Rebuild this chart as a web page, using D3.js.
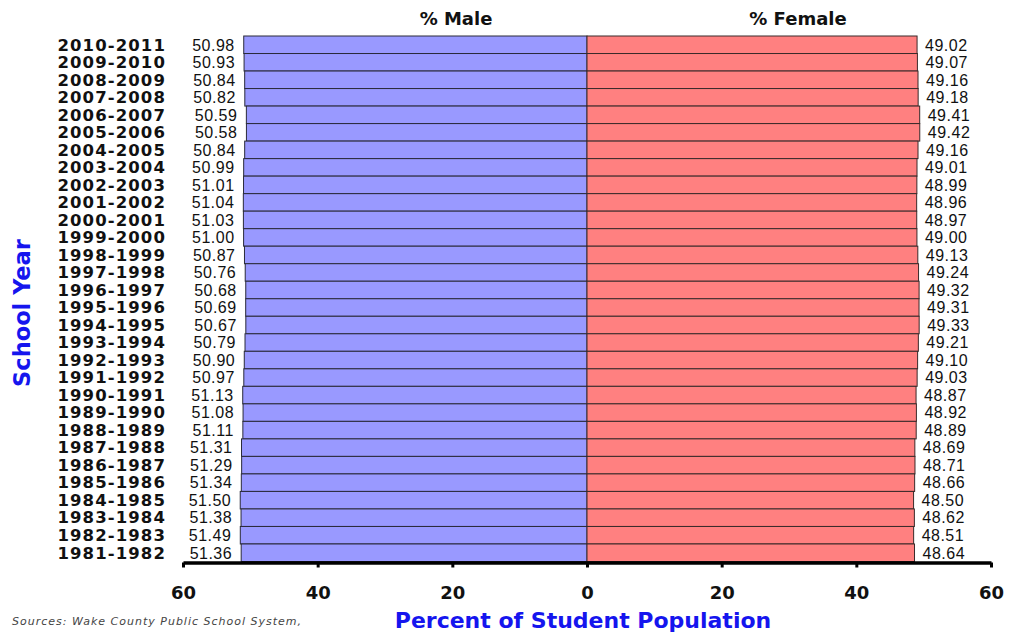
<!DOCTYPE html>
<html>
<head>
<meta charset="utf-8">
<script src="https://cdn.jsdelivr.net/npm/d3@7"></script>
<style>
  body { margin: 0; background: #fff; }
</style>
</head>
<body>
<div id="chart"></div>
<script>
var years = ["2010-2011", "2009-2010", "2008-2009", "2007-2008", "2006-2007", "2005-2006",
    "2004-2005", "2003-2004", "2002-2003", "2001-2002", "2000-2001", "1999-2000",
    "1998-1999", "1997-1998", "1996-1997", "1995-1996", "1994-1995", "1993-1994",
    "1992-1993", "1991-1992", "1990-1991", "1989-1990", "1988-1989", "1987-1988",
    "1986-1987", "1985-1986", "1984-1985", "1983-1984", "1982-1983", "1981-1982"];

var male = [50.98, 50.93, 50.84, 50.82, 50.59, 50.58, 50.84, 50.99, 51.01, 51.04,
    51.03, 51.00, 50.87, 50.76, 50.68, 50.69, 50.67, 50.79, 50.90, 50.97,
    51.13, 51.08, 51.11, 51.31, 51.29, 51.34, 51.50, 51.38, 51.49, 51.36];

var female = [49.02, 49.07, 49.16, 49.18, 49.41, 49.42, 49.16, 49.01, 48.99, 48.96,
    48.97, 49.00, 49.13, 49.24, 49.32, 49.31, 49.33, 49.21, 49.10, 49.03,
    48.87, 48.92, 48.89, 48.69, 48.71, 48.66, 48.50, 48.62, 48.51, 48.64];

var tickValues = [-60, -40, -20, 0, 20, 40, 60];

var width = 1026, height = 633;
var margin = {top: 36, right: 35, bottom: 72, left: 183};

var svg = d3.select("#chart")
    .append("svg")
    .attr("width", width)
    .attr("height", height);

var x = d3.scaleLinear()
    .domain([-60, 60])
    .range([margin.left, width - margin.right]);

var y = d3.scaleBand()
    .domain(years)
    .range([margin.top, height - margin.bottom + 0.5])
    .padding(0);

var rows = years.map(function (d, i) {
    return {year: d, male: male[i], female: female[i]};
});

var boldFont = "'DejaVu Sans', Verdana, sans-serif";
var numFont = "'Liberation Sans', Arial, sans-serif";

// male bars
svg.append("g")
    .selectAll("rect")
    .data(rows)
    .enter()
    .append("rect")
    .attr("x", function (d) { return x(-d.male); })
    .attr("y", function (d) { return y(d.year); })
    .attr("width", function (d) { return x(0) - x(-d.male); })
    .attr("height", y.bandwidth())
    .style("fill", "#9999ff")
    .style("stroke", "#2a2a3a")
    .style("stroke-width", 1);

// female bars
svg.append("g")
    .selectAll("rect")
    .data(rows)
    .enter()
    .append("rect")
    .attr("x", x(0))
    .attr("y", function (d) { return y(d.year); })
    .attr("width", function (d) { return x(d.female) - x(0); })
    .attr("height", y.bandwidth())
    .style("fill", "#ff8080")
    .style("stroke", "#3a2a2a")
    .style("stroke-width", 1);

// value labels
svg.append("g")
    .selectAll("text")
    .data(rows)
    .enter()
    .append("text")
    .attr("x", function (d) { return x(-d.male) - 9; })
    .attr("y", function (d) { return y(d.year) + y.bandwidth() - 3; })
    .attr("text-anchor", "end")
    .style("font-family", numFont)
    .style("font-size", "16px")
    .style("letter-spacing", "0.5px")
    .style("fill", "#111")
    .text(function (d) { return d.male.toFixed(2); });

svg.append("g")
    .selectAll("text")
    .data(rows)
    .enter()
    .append("text")
    .attr("x", function (d) { return x(d.female) + 8; })
    .attr("y", function (d) { return y(d.year) + y.bandwidth() - 3; })
    .style("font-family", numFont)
    .style("font-size", "16px")
    .style("letter-spacing", "0.5px")
    .style("fill", "#111")
    .text(function (d) { return d.female.toFixed(2); });

// year labels
svg.append("g")
    .selectAll("text")
    .data(rows)
    .enter()
    .append("text")
    .attr("x", 166)
    .attr("y", function (d) { return y(d.year) + y.bandwidth() - 3; })
    .attr("text-anchor", "end")
    .style("font-family", boldFont)
    .style("font-weight", "bold")
    .style("font-size", "16.5px")
    .style("letter-spacing", "1.1px")
    .style("fill", "#111")
    .text(function (d) { return d.year; });

// bottom axis
var axis = svg.append("g")
    .attr("transform", "translate(0," + (height - margin.bottom + 1.5) + ")")
    .call(d3.axisBottom(x)
        .tickValues(tickValues)
        .tickFormat(function (d) { return Math.abs(d); })
        .tickSize(5)
        .tickSizeOuter(0)
        .tickPadding(19));

axis.select(".domain")
    .style("stroke", "#000")
    .style("stroke-width", 3.5);
axis.selectAll(".tick line")
    .style("stroke", "#000")
    .style("stroke-width", 3);
axis.selectAll(".tick text")
    .style("font-family", boldFont)
    .style("font-weight", "bold")
    .style("font-size", "18px")
    .style("fill", "#111");

// headers
svg.append("text")
    .attr("x", 456)
    .attr("y", 25)
    .attr("text-anchor", "middle")
    .style("font-family", boldFont)
    .style("font-weight", "bold")
    .style("font-size", "18px")
    .style("fill", "#111")
    .text("% Male");

svg.append("text")
    .attr("x", 798)
    .attr("y", 25)
    .attr("text-anchor", "middle")
    .style("font-family", boldFont)
    .style("font-weight", "bold")
    .style("font-size", "18px")
    .style("fill", "#111")
    .text("% Female");

// axis titles
svg.append("text")
    .attr("x", 583)
    .attr("y", 628)
    .attr("text-anchor", "middle")
    .style("font-family", boldFont)
    .style("font-weight", "bold")
    .style("font-size", "22px")
    .style("fill", "#1515ee")
    .text("Percent of Student Population");

svg.append("text")
    .attr("transform", "translate(30,313) rotate(-90)")
    .attr("text-anchor", "middle")
    .style("font-family", boldFont)
    .style("font-weight", "bold")
    .style("font-size", "22.5px")
    .style("fill", "#1515ee")
    .text("School Year");

// source note
svg.append("text")
    .attr("x", 12)
    .attr("y", 625)
    .style("font-family", boldFont)
    .style("font-style", "italic")
    .style("font-size", "11px")
    .style("letter-spacing", "1px")
    .style("fill", "#444")
    .text("Sources:  Wake County Public School System,");
</script>
</body>
</html>
